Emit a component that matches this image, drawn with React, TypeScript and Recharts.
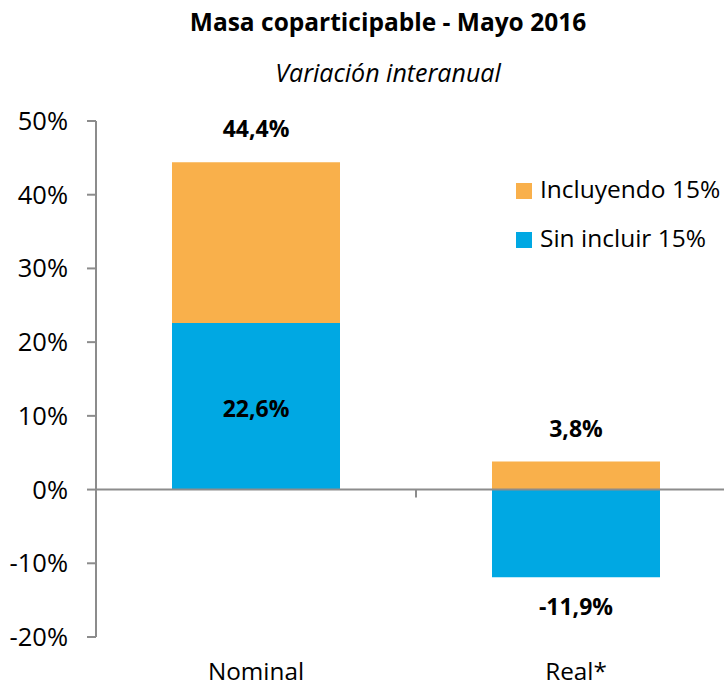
import React from 'react';
import { BarChart, Bar, XAxis, YAxis, ReferenceLine, LabelList } from 'recharts';

const categories = ['Nominal', 'Real*'];
const incluyendo = [44.4, 3.8];
const sinIncluir = [22.6, -11.9];
const yTicks = [-20, -10, 0, 10, 20, 30, 40, 50];
const legendNames = ['Incluyendo 15%', 'Sin incluir 15%'];

const data = categories.map((c, i) => ({ name: c, inc: incluyendo[i], sin: sinIncluir[i] }));

const ORANGE = '#F9B04B';
const BLUE = '#00A8E3';
const AXIS = '#8C8C8C';
const FONT = '"Open Sans", sans-serif';

const fmt = (v: number) => v.toFixed(1).replace('.', ',') + '%';

const incLabel = (p: any) => {
  const { x, y, width, height, value } = p;
  const top = Math.min(y, y + height);
  return (
    <text x={x + width / 2} y={top - 34} textAnchor="middle" dominantBaseline="central"
      fontFamily={FONT} fontWeight={700} fontSize={23} fill="#000">{fmt(value)}</text>
  );
};

const sinLabel = (p: any) => {
  const { x, y, width, height, value } = p;
  const top = Math.min(y, y + height);
  const bottom = Math.max(y, y + height);
  const cy = value >= 0 ? (top + bottom) / 2 + 2 : bottom + 29;
  return (
    <text x={x + width / 2} y={cy} textAnchor="middle" dominantBaseline="central"
      fontFamily={FONT} fontWeight={700} fontSize={23} fill="#000">{fmt(value)}</text>
  );
};

const XTick = (p: any) => {
  const { x, y, payload } = p;
  return (
    <text x={x} y={y + 25} textAnchor="middle" dominantBaseline="central"
      fontFamily={FONT} fontSize={24.3} fill="#000">{payload.value}</text>
  );
};

const ZeroLine = (p: any) => {
  const { x1, y1, x2, y2 } = p;
  const mx = (x1 + x2) / 2;
  return (
    <g>
      <line x1={x1} y1={y1} x2={x2} y2={y2} stroke={AXIS} strokeWidth={2} />
      <line x1={mx} y1={y1} x2={mx} y2={y1 + 8} stroke={AXIS} strokeWidth={2} />
    </g>
  );
};

export default function App() {
  return (
    <div style={{ position: 'absolute', left: 0, top: 0, width: 724, height: 686, overflow: 'hidden', background: '#fff', fontFamily: FONT, lineHeight: 'normal' }}>
      <div style={{ position: 'absolute', left: 0, width: 776, top: 5, textAlign: 'center', fontWeight: 700, fontSize: 24.5, color: '#000', whiteSpace: 'nowrap' }}>
        Masa coparticipable - Mayo 2016
      </div>
      <div style={{ position: 'absolute', left: 0, width: 776, top: 55, textAlign: 'center', fontStyle: 'italic', fontSize: 25, color: '#000', whiteSpace: 'nowrap' }}>
        Variación interanual
      </div>
      <span style={{ position: 'absolute', left: 516, top: 183, width: 16, height: 16, background: ORANGE }} />
      <span style={{ position: 'absolute', left: 540, top: 172, fontSize: 24.5, color: '#000', whiteSpace: 'nowrap' }}>{legendNames[0]}</span>
      <span style={{ position: 'absolute', left: 516, top: 232, width: 16, height: 16, background: BLUE }} />
      <span style={{ position: 'absolute', left: 540, top: 221, fontSize: 24.5, color: '#000', whiteSpace: 'nowrap' }}>{legendNames[1]}</span>
      <BarChart width={740} height={686} data={data} margin={{ top: 121, right: 4, left: 0, bottom: 9 }}
        barSize={168} barGap={-168}>
        <XAxis dataKey="name" axisLine={false} tickLine={false} height={40} tick={<XTick />} interval={0} />
        <YAxis width={96} domain={[-20, 50]} ticks={yTicks} tickFormatter={(v: number) => v + '%'}
          axisLine={{ stroke: AXIS, strokeWidth: 2 }} tickLine={{ stroke: AXIS, strokeWidth: 2 }}
          tickSize={9} tickMargin={19} tick={{ fill: '#000', fontSize: 25.5, fontFamily: FONT }} />
        <Bar dataKey="inc" name={legendNames[0]} fill={ORANGE} isAnimationActive={false}>
          <LabelList dataKey="inc" content={incLabel} />
        </Bar>
        <Bar dataKey="sin" name={legendNames[1]} fill={BLUE} isAnimationActive={false}>
          <LabelList dataKey="sin" content={sinLabel} />
        </Bar>
        <ReferenceLine y={0} shape={<ZeroLine />} />
      </BarChart>
    </div>
  );
}
